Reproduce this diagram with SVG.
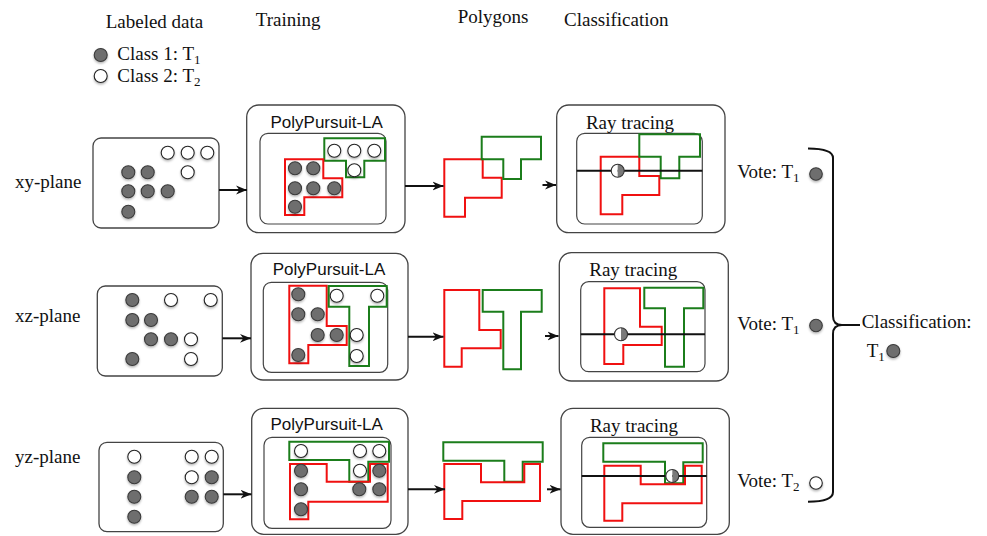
<svg xmlns="http://www.w3.org/2000/svg" width="987" height="536" viewBox="0 0 987 536">
  <defs>
    <style>
      .serif { font-family: "Liberation Serif", "Times New Roman", serif; font-size: 19px; fill: #111; }
      .sans { font-family: "Liberation Sans", Arial, sans-serif; font-size: 17px; fill: #111; }
      .sub { font-size: 13px; }
      .box { fill: #fff; stroke: #444; stroke-width: 1.3; }
      .inner { fill: #fff; stroke: #444; stroke-width: 1.2; }
      .red { fill: none; stroke: #f01010; stroke-width: 2; }
      .green { fill: none; stroke: #1b7d1b; stroke-width: 2; }
      .c1 { fill: #6e6e6e; stroke: #3a3a3a; stroke-width: 1.1; filter: url(#shadow); }
      .c2 { fill: #fff; stroke: #222; stroke-width: 1.1; filter: url(#shadow); }
      .ray { stroke: #111; stroke-width: 2; }
      .conn { stroke: #111; stroke-width: 2; fill: none; marker-end: url(#arrow); }
      .brace { stroke: #111; stroke-width: 2; fill: none; }
    </style>
    <filter id="shadow" x="-50%" y="-50%" width="200%" height="200%">
      <feDropShadow dx="0" dy="1.5" stdDeviation="1.2" flood-color="#000" flood-opacity="0.3"/>
    </filter>
    <marker id="arrow" viewBox="0 0 10 10" refX="10" refY="5" markerWidth="11" markerHeight="11" markerUnits="userSpaceOnUse" orient="auto">
      <path d="M0,1 L10,5 L0,9 L3,5 z" fill="#111"/>
    </marker>
    <!-- half-filled probe point used on the ray -->
    <g id="probe">
      <path d="M0,-6.5 A6.5,6.5 0 0 0 0,6.5 Z" fill="#fff"/>
      <path d="M0,-6.5 A6.5,6.5 0 0 1 0,6.5 Z" fill="#7a7a7a"/>
      <circle r="6.5" fill="none" stroke="#333" stroke-width="1.1"/>
    </g>
  </defs>

  <rect width="987" height="536" fill="#fff"/>

  <!-- column headers and legend -->
  <g id="headers">
    <text class="serif" x="105.7" y="28.3">Labeled data</text>
    <text class="serif" x="255.7" y="26">Training</text>
    <text class="serif" x="457.7" y="22.7">Polygons</text>
    <text class="serif" x="564" y="26">Classification</text>
  </g>
  <g id="legend">
    <circle class="c1" cx="100.7" cy="55" r="6.5"/>
    <circle class="c2" cx="100.7" cy="76" r="6.5"/>
    <text class="serif" x="117.3" y="59.5">Class 1: T<tspan class="sub" dy="4">1</tspan></text>
    <text class="serif" x="117.3" y="81.5">Class 2: T<tspan class="sub" dy="4">2</tspan></text>
  </g>

  <!-- row labels -->
  <g id="labels">
    <text class="serif" x="15" y="188.3">xy-plane</text>
    <text class="serif" x="15" y="321.7">xz-plane</text>
    <text class="serif" x="15" y="463.3">yz-plane</text>
  </g>

  <!-- ===== xy-plane row ===== -->
  <g id="xy-data">
    <rect class="box" x="93" y="138" width="126" height="90" rx="8"/>
    <circle class="c2" cx="167.7" cy="152.7" r="6.5"/>
    <circle class="c2" cx="187.7" cy="152.7" r="6.5"/>
    <circle class="c2" cx="207.3" cy="152.7" r="6.5"/>
    <circle class="c2" cx="187.7" cy="172.3" r="6.5"/>
    <circle class="c1" cx="128.3" cy="172.3" r="6.5"/>
    <circle class="c1" cx="147.7" cy="172.3" r="6.5"/>
    <circle class="c1" cx="128.3" cy="191.3" r="6.5"/>
    <circle class="c1" cx="147.7" cy="191.3" r="6.5"/>
    <circle class="c1" cx="167.7" cy="191.3" r="6.5"/>
    <circle class="c1" cx="128.3" cy="211.7" r="6.5"/>
  </g>
  <g id="xy-training">
    <rect class="box" x="246.7" y="105" width="158.3" height="127.7" rx="12"/>
    <text class="sans" x="326.7" y="128" text-anchor="middle">PolyPursuit-LA</text>
    <rect class="inner" x="260" y="133.3" width="126" height="90.7" rx="8"/>
    <polygon class="green" points="324.3,138.3 385,138.3 385,160.7 364.3,160.7 364.3,177.3 346,177.3 346,160.7 324.3,160.7"/>
    <polygon class="red" points="285,159.3 323.3,159.3 323.3,178.3 342.3,178.3 342.3,197.3 304.3,197.3 304.3,215 285,215"/>
    <circle class="c2" cx="334.3" cy="150.7" r="6.5"/>
    <circle class="c2" cx="354.3" cy="150.7" r="6.5"/>
    <circle class="c2" cx="374.3" cy="150.7" r="6.5"/>
    <circle class="c2" cx="354.3" cy="170.3" r="6.5"/>
    <circle class="c1" cx="295" cy="168.3" r="6.5"/>
    <circle class="c1" cx="313.3" cy="168.3" r="6.5"/>
    <circle class="c1" cx="295" cy="188.3" r="6.5"/>
    <circle class="c1" cx="313.3" cy="188.3" r="6.5"/>
    <circle class="c1" cx="334.3" cy="188.3" r="6.5"/>
    <circle class="c1" cx="295" cy="206.7" r="6.5"/>
  </g>
  <g id="xy-polygons">
    <polygon class="red" points="444.3,159.3 482.7,159.3 482.7,177.7 501.7,177.7 501.7,197.7 465,197.7 465,216.7 444.3,216.7"/>
    <polygon class="green" points="481.7,136.7 541,136.7 541,159.3 521,159.3 521,179 503.3,179 503.3,159.3 481.7,159.3"/>
  </g>
  <g id="xy-raytracing">
    <rect class="box" x="556.7" y="105" width="168.3" height="127.7" rx="12"/>
    <text class="serif" x="630" y="129" text-anchor="middle">Ray tracing</text>
    <rect class="inner" x="576.7" y="133.3" width="125.6" height="90.7" rx="8"/>
    <polygon class="red" points="600.7,156.7 639.3,156.7 639.3,176 659.3,176 659.3,195 622.3,195 622.3,214.3 600.7,214.3"/>
    <polygon class="green" points="639.3,134.3 700,134.3 700,156.7 679.3,156.7 679.3,178.3 660.7,178.3 660.7,156.7 639.3,156.7"/>
    <line class="ray" x1="576.7" y1="170.7" x2="702.3" y2="170.7"/>
    <use href="#probe" x="617.7" y="170.7"/>
  </g>

  <!-- ===== xz-plane row ===== -->
  <g id="xz-data">
    <rect class="box" x="97.3" y="286" width="125" height="90" rx="8"/>
    <circle class="c1" cx="132.3" cy="300" r="6.5"/>
    <circle class="c2" cx="171" cy="300" r="6.5"/>
    <circle class="c2" cx="210.7" cy="300" r="6.5"/>
    <circle class="c1" cx="132.3" cy="320" r="6.5"/>
    <circle class="c1" cx="151" cy="320" r="6.5"/>
    <circle class="c1" cx="151" cy="339.3" r="6.5"/>
    <circle class="c1" cx="171" cy="339.3" r="6.5"/>
    <circle class="c2" cx="191" cy="339.3" r="6.5"/>
    <circle class="c1" cx="132.3" cy="359" r="6.5"/>
    <circle class="c2" cx="191" cy="359" r="6.5"/>
  </g>
  <g id="xz-training">
    <rect class="box" x="251" y="253.3" width="157" height="126.7" rx="12"/>
    <text class="sans" x="329" y="275" text-anchor="middle">PolyPursuit-LA</text>
    <rect class="inner" x="263.3" y="282.3" width="124.4" height="90" rx="8"/>
    <polygon class="red" points="289.3,285.7 326.7,285.7 326.7,326 346.7,326 346.7,345 308.3,345 308.3,363.3 289.3,363.3"/>
    <polygon class="green" points="328.7,286 386.7,286 386.7,306.7 369,306.7 369,366 349.3,366 349.3,306.7 328.7,306.7"/>
    <circle class="c1" cx="298.3" cy="294.3" r="6.5"/>
    <circle class="c1" cx="298.3" cy="314.3" r="6.5"/>
    <circle class="c1" cx="317.7" cy="314.3" r="6.5"/>
    <circle class="c1" cx="317.7" cy="335" r="6.5"/>
    <circle class="c1" cx="336.7" cy="335" r="6.5"/>
    <circle class="c1" cx="298.3" cy="355" r="6.5"/>
    <circle class="c2" cx="336.7" cy="295.7" r="6.5"/>
    <circle class="c2" cx="377.3" cy="295.7" r="6.5"/>
    <circle class="c2" cx="356.7" cy="335" r="6.5"/>
    <circle class="c2" cx="356.7" cy="356" r="6.5"/>
  </g>
  <g id="xz-polygons">
    <polygon class="red" points="444.3,290 479.3,290 479.3,330 500.7,330 500.7,348.3 461.7,348.3 461.7,366.7 444.3,366.7"/>
    <polygon class="green" points="482.7,290 541.7,290 541.7,311.7 521,311.7 521,369.3 503.3,369.3 503.3,311.7 482.7,311.7"/>
  </g>
  <g id="xz-raytracing">
    <rect class="box" x="559.3" y="252.7" width="169" height="128.3" rx="12"/>
    <text class="serif" x="633.3" y="276" text-anchor="middle">Ray tracing</text>
    <rect class="inner" x="580.7" y="281.7" width="124.3" height="90" rx="8"/>
    <polygon class="red" points="604.3,288.3 640,288.3 640,326.7 661.7,326.7 661.7,345 623.3,345 623.3,364 604.3,364"/>
    <polygon class="green" points="644.3,287.7 703.3,287.7 703.3,308.3 684,308.3 684,366.7 665,366.7 665,308.3 644.3,308.3"/>
    <line class="ray" x1="580.7" y1="334.3" x2="705" y2="334.3"/>
    <use href="#probe" x="621" y="334.3"/>
  </g>

  <!-- ===== yz-plane row ===== -->
  <g id="yz-data">
    <rect class="box" x="99" y="442.3" width="124.3" height="89.4" rx="8"/>
    <circle class="c2" cx="134.3" cy="456.7" r="6.5"/>
    <circle class="c1" cx="134.3" cy="477.3" r="6.5"/>
    <circle class="c1" cx="134.3" cy="496.7" r="6.5"/>
    <circle class="c1" cx="134.3" cy="516.7" r="6.5"/>
    <circle class="c2" cx="191.7" cy="456.7" r="6.5"/>
    <circle class="c2" cx="211.7" cy="456.7" r="6.5"/>
    <circle class="c2" cx="191.7" cy="477.3" r="6.5"/>
    <circle class="c1" cx="211.7" cy="477.3" r="6.5"/>
    <circle class="c1" cx="191.7" cy="496.7" r="6.5"/>
    <circle class="c1" cx="211.7" cy="496.7" r="6.5"/>
  </g>
  <g id="yz-training">
    <rect class="box" x="251.7" y="408.3" width="156.3" height="126" rx="12"/>
    <text class="sans" x="326.7" y="430" text-anchor="middle">PolyPursuit-LA</text>
    <rect class="inner" x="264" y="437.3" width="127" height="91" rx="8"/>
    <polygon class="green" points="289.3,441.7 389,441.7 389,461.7 368.3,461.7 368.3,481.7 349.3,481.7 349.3,460 289.3,460"/>
    <polygon class="red" points="290,464 326.7,464 326.7,481.7 370,481.7 370,464 387.7,464 387.7,501.7 308.3,501.7 308.3,519.3 290,519.3"/>
    <circle class="c2" cx="301" cy="451" r="6.5"/>
    <circle class="c2" cx="360" cy="451" r="6.5"/>
    <circle class="c2" cx="379.3" cy="451" r="6.5"/>
    <circle class="c2" cx="360" cy="470.7" r="6.5"/>
    <circle class="c1" cx="301" cy="470.7" r="6.5"/>
    <circle class="c1" cx="301" cy="489.3" r="6.5"/>
    <circle class="c1" cx="301" cy="509.3" r="6.5"/>
    <circle class="c1" cx="379.3" cy="470.7" r="6.5"/>
    <circle class="c1" cx="359.3" cy="489.3" r="6.5"/>
    <circle class="c1" cx="379.3" cy="489.3" r="6.5"/>
  </g>
  <g id="yz-polygons">
    <polygon class="green" points="443.3,442.3 542.7,442.3 542.7,461.7 522.7,461.7 522.7,481.7 504.3,481.7 504.3,460.7 443.3,460.7"/>
    <polygon class="red" points="444.3,464 481,464 481,482.3 524.3,482.3 524.3,464 540,464 540,501 462.3,501 462.3,519 444.3,519"/>
  </g>
  <g id="yz-raytracing">
    <rect class="box" x="561" y="408.3" width="168.3" height="126" rx="12"/>
    <text class="serif" x="634" y="432" text-anchor="middle">Ray tracing</text>
    <rect class="inner" x="581.7" y="437.3" width="125" height="90" rx="8"/>
    <polygon class="green" points="603.3,443.3 702.7,443.3 702.7,462.3 683.3,462.3 683.3,483.3 665,483.3 665,461.7 603.3,461.7"/>
    <polygon class="red" points="604.3,465.7 640.7,465.7 640.7,484.3 685,484.3 685,465.7 701.7,465.7 701.7,503.3 622.3,503.3 622.3,520.7 604.3,520.7"/>
    <line class="ray" x1="581.7" y1="476" x2="706.7" y2="476"/>
    <use href="#probe" x="672.3" y="476"/>
  </g>

  <!-- votes and final decision -->
  <g id="votes">
    <text class="serif" x="737.3" y="178.3">Vote: T<tspan class="sub" dy="4">1</tspan></text>
    <circle class="c1" cx="816" cy="174" r="6.3"/>
    <text class="serif" x="737.3" y="330">Vote: T<tspan class="sub" dy="4">1</tspan></text>
    <circle class="c1" cx="816" cy="325.5" r="6.3"/>
    <text class="serif" x="737.3" y="486.7">Vote: T<tspan class="sub" dy="4">2</tspan></text>
    <circle class="c2" cx="816" cy="483" r="6.3"/>
  </g>
  <g id="decision">
    <text class="serif" x="861.7" y="328.3">Classification:</text>
    <text class="serif" x="866.7" y="356.7">T<tspan class="sub" dy="4">1</tspan></text>
    <circle class="c1" cx="893.3" cy="351" r="6.5"/>
  </g>

  <!-- connectors -->
  <g id="connectors">
    <line class="conn" x1="219" y1="190" x2="247" y2="190"/>
    <line class="conn" x1="405" y1="186" x2="443.5" y2="186"/>
    <line class="conn" x1="542.5" y1="185" x2="556" y2="185"/>

    <line class="conn" x1="222.3" y1="338.3" x2="251" y2="338.3"/>
    <line class="conn" x1="408" y1="336.7" x2="443.5" y2="336.7"/>
    <line class="conn" x1="545" y1="336" x2="558.5" y2="336"/>

    <line class="conn" x1="223.3" y1="494.3" x2="251.5" y2="494.3"/>
    <line class="conn" x1="408" y1="489.3" x2="445" y2="489.3"/>
    <line class="conn" x1="547" y1="489.3" x2="560.5" y2="489.3"/>

    <path class="brace" d="M808,148.5 Q833,148.5 833,158 L833,316 Q833,325 842,325 L860,325 M842,325 Q833,325 833,334 L833,492 Q833,501.7 808,501.7"/>
  </g>
</svg>
